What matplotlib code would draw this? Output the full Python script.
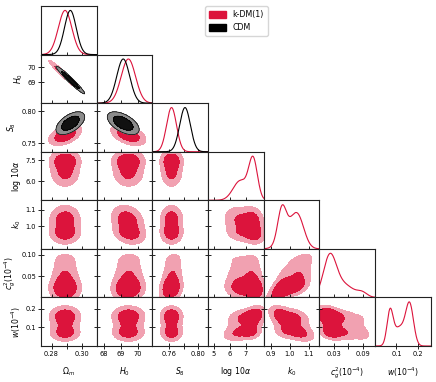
import math
import numpy as np
import matplotlib
matplotlib.use("Agg")
import matplotlib.pyplot as plt
from matplotlib.patches import Patch

# axis labels, plot ranges and ticks of the 7 parameters
labels = [r"$\Omega_m$", r"$H_0$", r"$S_8$", r"$\log\,10\alpha$", r"$k_0$",
          r"$c_g^2(10^{-4})$", r"$w(10^{-4})$"]
ranges = [(0.273, 0.310), (67.6, 70.85), (0.737, 0.813), (4.63, 8.11),
          (0.862, 1.157), (0.001, 0.114), (0.0, 0.26)]
xticks = [[0.28, 0.29, 0.30], [68, 69, 70], [0.76, 0.78, 0.80], [5, 6, 7],
          [0.9, 1.0, 1.1], [0.03, 0.06, 0.09], [0.1, 0.2]]
xticklabels = [["0.28", "", "0.30"], ["68", "69", "70"], ["0.76", "", "0.80"],
               ["5", "6", "7"], ["0.9", "1.0", "1.1"], ["0.03", "", "0.09"],
               ["0.1", "0.2"]]
yticks = [[], [69, 70], [0.75, 0.80], [6.0, 7.5], [1.0, 1.1], [0.05, 0.10], [0.1, 0.2]]
yticklabels = [[], ["69", "70"], ["0.75", "0.80"], ["6.0", "7.5"], ["1.0", "1.1"],
               ["0.05", "0.10"], ["0.1", "0.2"]]
lower_bound = [None, None, None, None, None, 0.0, 0.0]
# extra smoothing of the 2D contours (fraction of the range)
smooth2d = [0.0, 0.0, 0.0, 0.06, 0.06, 0.02, 0.06]

# k-DM(1) marginals, (mean, sd, weight)
kdm_marg = [
    [(0.289, 0.0045, 1.0)],
    [(69.45, 0.42, 1.0)],
    [(0.7632, 0.0068, 1.0)],
    [(7.45, 0.27, 0.55), (6.65, 0.45, 0.45)],
    [(0.958, 0.022, 0.3), (1.045, 0.033, 0.35), (1.0, 0.045, 0.35)],
    [(0.022, 0.013, 0.6), (0.05, 0.02, 0.3), (0.088, 0.01, 0.05)],
    [(0.07, 0.014, 0.27), (0.162, 0.018, 0.42), (0.115, 0.028, 0.31)],
]
# k-DM(1) pair correlations (row, col)
kdm_corr = {
    (1, 0): -0.97,
    (2, 0): 0.45, (2, 1): -0.45,
    (3, 0): 0.0, (3, 1): 0.0, (3, 2): 0.0,
    (4, 0): 0.0, (4, 1): -0.25, (4, 2): 0.0, (4, 3): -0.2,
    (5, 0): 0.0, (5, 1): 0.05, (5, 2): 0.2, (5, 3): -0.15, (5, 4): 0.6,
    (6, 0): 0.0, (6, 1): 0.0, (6, 2): 0.0, (6, 3): 0.4, (6, 4): -0.5, (6, 5): -0.35,
}
# CDM only has the first three parameters
cdm_marg = [
    [(0.2925, 0.0039, 1.0)],
    [(69.15, 0.38, 1.0)],
    [(0.7816, 0.0073, 1.0)],
]
cdm_corr = {(1, 0): -0.97, (2, 0): 0.55, (2, 1): -0.55}

kdm_dark, kdm_light = "#DC143C", "#F1A1B1"
cdm_dark, cdm_light = "#111111", "#8C8C8C"

zz = np.linspace(-7, 7, 2001)
phi_cdf = 0.5 * (1 + np.vectorize(math.erf)(zz / np.sqrt(2)))


def mix_pdf(x, comps, lo=None):
    p = np.zeros_like(x, dtype=float)
    for m, s, wt in comps:
        p += wt / s * np.exp(-0.5 * ((x - m) / s) ** 2)
    if lo is not None:
        p = np.where(x < lo, 0.0, p)
    return p


def widen(comps, k):
    span = ranges[k][1] - ranges[k][0]
    h = smooth2d[k] * span
    return [(m, np.sqrt(s**2 + h**2), wt) for m, s, wt in comps]


def to_gauss(x, comps, lo=None):
    a = min(m - 7 * s for m, s, _ in comps)
    b = max(m + 7 * s for m, s, _ in comps)
    if lo is not None:
        a = max(a, lo)
    g = np.linspace(a, b, 4000)
    c = np.cumsum(mix_pdf(g, comps, lo))
    c = c / c[-1]
    u = np.clip(np.interp(x, g, c), 1e-9, 1 - 1e-9)
    return np.interp(u, phi_cdf, zz)


def density2(i, j, marg, corr):
    xg = np.linspace(*ranges[j], 160)
    yg = np.linspace(*ranges[i], 160)
    X, Y = np.meshgrid(xg, yg)
    cx, cy = widen(marg[j], j), widen(marg[i], i)
    fx = mix_pdf(X, cx, lower_bound[j])
    fy = mix_pdf(Y, cy, lower_bound[i])
    zx = to_gauss(X, cx, lower_bound[j])
    zy = to_gauss(Y, cy, lower_bound[i])
    r = corr[(i, j)]
    cop = np.exp(-(r**2 * (zx**2 + zy**2) - 2 * r * zx * zy) / (2 * (1 - r**2))) / np.sqrt(1 - r**2)
    return X, Y, fx * fy * cop


def hpd(P, fracs=(0.95, 0.68)):
    flat = np.sort(P.ravel())[::-1]
    cum = np.cumsum(flat)
    cum = cum / cum[-1]
    return [flat[np.searchsorted(cum, f)] for f in fracs]


def filled(ax, i, j, marg, corr, light, dark, edge=None):
    X, Y, P = density2(i, j, marg, corr)
    l95, l68 = hpd(P)
    ax.contourf(X, Y, P, levels=[l95, l68, P.max() * 1.01], colors=[light, dark])
    if edge is not None:
        ax.contour(X, Y, P, levels=[l95, l68], colors=edge, linewidths=0.5)


n = 7
fig = plt.figure(figsize=(4.36, 3.82), dpi=100)
left, right, top, bottom = 41 / 436, 430.7 / 436, 1 - 6 / 382, 1 - 346 / 382
cw = (right - left) / n
rh = (top - bottom) / n

for i in range(n):
    for j in range(i + 1):
        ax = fig.add_axes([left + j * cw, top - (i + 1) * rh, cw, rh])
        ax.set_xlim(*ranges[j])
        if i == j:
            xs = np.linspace(*ranges[j], 400)
            p = mix_pdf(xs, kdm_marg[j], lower_bound[j])
            ax.plot(xs, p / p.max(), color=kdm_dark, lw=0.8)
            if j < 3:
                p = mix_pdf(xs, cdm_marg[j])
                ax.plot(xs, p / p.max(), color="black", lw=0.8)
            ax.set_ylim(0, 1.1)
            ax.set_yticks([])
        else:
            ax.set_ylim(*ranges[i])
            filled(ax, i, j, kdm_marg, kdm_corr, kdm_light, kdm_dark)
            if i < 3:
                filled(ax, i, j, cdm_marg, cdm_corr, cdm_light, cdm_dark, edge="black")
            ax.set_yticks(yticks[i])
            if j == 0:
                ax.set_yticklabels(yticklabels[i])
                ax.set_ylabel(labels[i], fontsize=5.6, labelpad=2)
            else:
                ax.set_yticklabels([])
        ax.set_xticks(xticks[j])
        if i == n - 1:
            ax.set_xticklabels(xticklabels[j])
            ax.set_xlabel(labels[j], fontsize=5.6, labelpad=6)
        else:
            ax.set_xticklabels([])
        ax.tick_params(direction="inout", length=4, width=0.6, labelsize=4.8, pad=1.5)
        for s in ax.spines.values():
            s.set_linewidth(0.8)
            s.set_color("#222222")

handles = [Patch(color=kdm_dark, label="k-DM(1)"), Patch(color="black", label="CDM")]
fig.legend(handles=handles, loc="upper left", bbox_to_anchor=(205 / 436, 1 - 6 / 382),
           borderaxespad=0, fontsize=5.7, handlelength=2.2, handleheight=1.0,
           borderpad=0.5, labelspacing=0.5, edgecolor="#cccccc")

fig.savefig("out.png", dpi=100)
